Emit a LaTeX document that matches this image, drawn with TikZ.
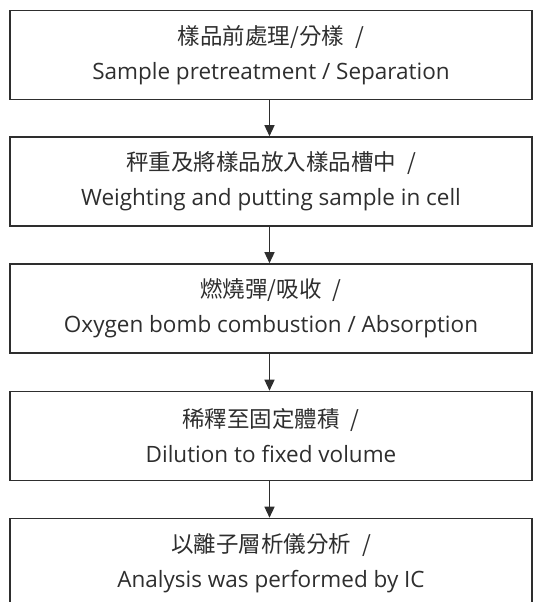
\documentclass[tikz,border=0pt]{standalone}
\usepackage{fontspec}
\setmainfont{Open Sans}
\newfontfamily\cjk{Noto Sans CJK TC}
\usetikzlibrary{arrows.meta}
\definecolor{ink}{HTML}{2E2E2E}
\newcommand{\slgap}{\hspace{11pt}/}
\tikzset{
  stepbox/.style={draw=ink, line width=1.6pt, minimum width=522pt, minimum height=89pt,
    inner sep=0pt, align=center, text=ink, font=\fontsize{22.5}{35}\selectfont},
  flow/.style={draw=ink, line width=1.4pt, -{Triangle[width=10pt,length=11pt]}}
}
\begin{document}
\begin{tikzpicture}[x=1pt,y=1pt]
\useasboundingbox (0,0) rectangle (533,-602);
\clip (0,0) rectangle (533,-602);
\node[stepbox] (b1) at (271,-55) {{\cjk 樣品前處理/分樣\slgap}\\Sample pretreatment / Separation};
\node[stepbox] (b2) at (271,-181.5) {{\cjk 秤重及將樣品放入樣品槽中\slgap}\\Weighting and putting sample in cell};
\node[stepbox] (b3) at (271,-308.5) {{\cjk 燃燒彈/吸收\slgap}\\Oxygen bomb combustion / Absorption};
\node[stepbox] (b4) at (271,-436) {{\cjk 稀釋至固定體積\slgap}\\Dilution to fixed volume};
\node[stepbox] (b5) at (271,-563) {{\cjk 以離子層析儀分析\slgap}\\Analysis was performed by IC};
\draw[flow] ([xshift=-1.5pt]b1.south) -- ([xshift=-1.5pt]b2.north);
\draw[flow] ([xshift=-1.5pt]b2.south) -- ([xshift=-1.5pt]b3.north);
\draw[flow] ([xshift=-1.5pt]b3.south) -- ([xshift=-1.5pt]b4.north);
\draw[flow] ([xshift=-1.5pt]b4.south) -- ([xshift=-1.5pt]b5.north);
\end{tikzpicture}
\end{document}
